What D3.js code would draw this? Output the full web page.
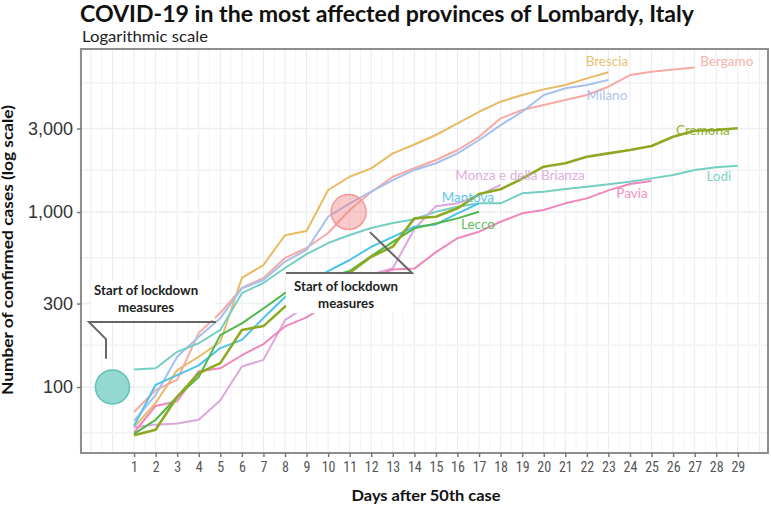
<!DOCTYPE html>
<html><head><meta charset="utf-8">
<script src="https://cdn.jsdelivr.net/npm/d3@7"></script>
<style>body{margin:0;background:#fff;} svg{display:block;}</style>
</head><body>
<svg id="chart" width="771" height="506"></svg>
<script>
// ---------- DATA (confirmed cases by day after 50th case) ----------
const days = d3.range(1, 30);
const brescia = [59, 81, 125, 149, 181, 420, 498, 737, 779, 1336, 1591, 1776, 2163, 2430, 2755, 3210, 3740, 4270, 4660, 5020, 5320, 5800, 6290];
const bergamo = [72, 96, 110, 204, 265, 368, 420, 546, 623, 759, 1027, 1301, 1591, 1780, 1982, 2262, 2690, 3428, 3830, 4090, 4370, 4660, 5200, 6060, 6340, 6530, 6700];
const milano = [64, 90, 149, 194, 247, 367, 409, 520, 607, 940, 1121, 1306, 1523, 1740, 1899, 2163, 2580, 3140, 3740, 4660, 5090, 5320, 5690];
const cremona = [53, 57, 88, 120, 137, 212, 223, 288, 330, 390, 450, 555, 634, 920, 940, 1050, 1268, 1350, 1550, 1816, 1899, 2070, 2163, 2262, 2384, 2690, 2915, 2940, 3010];
const lodi = [126, 128, 159, 178, 212, 344, 393, 479, 575, 665, 739, 810, 865, 910, 1004, 1072, 1121, 1121, 1279, 1306, 1354, 1395, 1439, 1490, 1557, 1627, 1738, 1800, 1840];
const monza = [59, 61, 62, 65, 84, 131, 143, 241, 290, 340, 390, 440, 477, 800, 1080, 1121, 1250, 1428];
const mantova = [60, 103, 117, 133, 167, 186, 248, 327, 390, 460, 532, 633, 722, 824, 850, 983, 1121];
const lecco = [54, 65, 88, 114, 198, 231, 281, 344, 385, 425, 460, 560, 676, 807, 861, 920, 1004];
const pavia = [55, 78, 83, 123, 128, 152, 176, 222, 250, 300, 360, 420, 470, 475, 590, 708, 772, 880, 983, 1027, 1121, 1197, 1330, 1445, 1503];

const seriesNames = ["Brescia", "Bergamo", "Milano", "Lodi", "Monza e della Brianza", "Pavia", "Mantova", "Lecco", "Cremona"];
const seriesValues = [brescia, bergamo, milano, lodi, monza, pavia, mantova, lecco, cremona];
const seriesColors = ["#e9ba62", "#f7aaa4", "#a6c0ee", "#74cfc2", "#dca7db", "#ef87bd", "#4cc3ea", "#4fb84a", "#8fa822"];
// label anchors [day, cases]
const labelAnchors = [[22.93, 7290], [28.49, 7290], [22.93, 4660], [28.12, 1606], [18.9, 1627], [24.09, 1284], [16.48, 1218], [16.95, 854], [27.38, 2940]];

const yTicks = [100, 300, 1000, 3000];
const xTicks = days;

// ---------- CHART ----------
const svg = d3.select("#chart");
const panel = {left: 81, top: 49, right: 768, bottom: 453};
const x = d3.scaleLinear().domain([-1.46, 30.4]).range([panel.left, panel.right]);
const y = d3.scaleLog().domain([42, 8540]).range([panel.bottom, panel.top]);

// grid
const g = svg.append("g");
const vMinor = d3.range(-1.5, 30.5, 1);
const vMajor = d3.range(-1, 31, 1);
g.selectAll("line.vmin").data(vMinor).join("line")
  .attr("x1", d => x(d)).attr("x2", d => x(d)).attr("y1", panel.top).attr("y2", panel.bottom)
  .attr("stroke", "#f3f4f7").attr("stroke-width", 1);
g.selectAll("line.vmaj").data(vMajor).join("line")
  .attr("x1", d => x(d)).attr("x2", d => x(d)).attr("y1", panel.top).attr("y2", panel.bottom)
  .attr("stroke", "#e9ebf0").attr("stroke-width", 1);
const hMajor = [30, 100, 300, 1000, 3000, 10000];
const hMinor = d3.pairs(hMajor).map(([a, b]) => Math.sqrt(a * b));
g.selectAll("line.hmin").data(hMinor.filter(v => v > 42 && v < 8540)).join("line")
  .attr("x1", panel.left).attr("x2", panel.right).attr("y1", d => y(d)).attr("y2", d => y(d))
  .attr("stroke", "#f1f2f5").attr("stroke-width", 1.5);
g.selectAll("line.hmaj").data(yTicks).join("line")
  .attr("x1", panel.left).attr("x2", panel.right).attr("y1", d => y(d)).attr("y2", d => y(d))
  .attr("stroke", "#eceef2").attr("stroke-width", 1.5);

// lines
const line = d3.line().x(d => x(d.day)).y(d => y(d.v));
seriesNames.forEach((name, i) => {
  const data = seriesValues[i].map((v, j) => ({day: days[j], v}));
  svg.append("path").datum(data)
    .attr("fill", "none")
    .attr("stroke", seriesColors[i])
    .attr("stroke-width", name === "Cremona" ? 2.6 : 2)
    .attr("stroke-linejoin", "round")
    .attr("d", line);
});

// end labels
seriesNames.forEach((name, i) => {
  svg.append("text")
    .attr("x", x(labelAnchors[i][0])).attr("y", y(labelAnchors[i][1]))
    .attr("text-anchor", "middle").attr("dominant-baseline", "central")
    .attr("font-family", "Lato, 'Open Sans', sans-serif").attr("font-size", 13.5)
    .attr("fill", seriesColors[i]).attr("opacity", 0.9)
    .text(name);
});

// annotation boxes (white backgrounds)
const ann = svg.append("g");
ann.append("rect").attr("x", x(-1.0)).attr("y", y(235) - 42).attr("width", x(4.75) - x(-1.0)).attr("height", 40).attr("fill", "#fff");
ann.append("rect").attr("x", x(8.05)).attr("y", y(448) + 1).attr("width", x(13.89) - x(8.05)).attr("height", 39).attr("fill", "#fff");

// annotation leader lines
const annLine = d3.line().x(d => x(d[0])).y(d => y(d[1]));
ann.append("path").datum([[-0.3, 145], [-0.3, 188], [-1.09, 235], [4.8, 235]])
  .attr("d", annLine).attr("fill", "none").attr("stroke", "#666").attr("stroke-width", 2);
ann.append("path").datum([[8.05, 448], [13.89, 448], [11.94, 768]])
  .attr("d", annLine).attr("fill", "none").attr("stroke", "#666").attr("stroke-width", 2);

// circles
svg.append("circle").attr("cx", x(0)).attr("cy", y(100)).attr("r", 17)
  .attr("fill", "#93d8d1").attr("stroke", "#5cc4b6").attr("stroke-width", 1.5);
svg.append("circle").attr("cx", x(10.95)).attr("cy", y(1000)).attr("r", 17.5)
  .attr("fill", "#f27b7b").attr("fill-opacity", 0.4).attr("stroke", "#f29a9a").attr("stroke-width", 1.5);

// annotation texts: [center day, line value, baseline offsets from line]
const annTexts = [[1.56, 235, -27, -10], [10.83, 448, 18, 35]];
annTexts.forEach(([d, v, o1, o2]) => {
  const cx = x(d), cy = y(v);
  svg.append("text").attr("x", cx).attr("y", cy + o1)
    .attr("text-anchor", "middle").attr("font-family", "Lato, sans-serif").attr("font-weight", "bold")
    .attr("font-size", 13).attr("textLength", 104).attr("lengthAdjust", "spacingAndGlyphs")
    .attr("fill", "#222").text("Start of lockdown");
  svg.append("text").attr("x", cx).attr("y", cy + o2)
    .attr("text-anchor", "middle").attr("font-family", "Lato, sans-serif").attr("font-weight", "bold")
    .attr("font-size", 13).attr("textLength", 56).attr("lengthAdjust", "spacingAndGlyphs")
    .attr("fill", "#222").text("measures");
});

// panel border
svg.append("rect").attr("x", panel.left).attr("y", panel.top)
  .attr("width", panel.right - panel.left).attr("height", panel.bottom - panel.top)
  .attr("fill", "none").attr("stroke", "#8e8e8e").attr("stroke-width", 2);

// axes
const xAxis = svg.append("g").attr("transform", `translate(0,${panel.bottom})`)
  .call(d3.axisBottom(x).tickValues(xTicks).tickSize(4).tickPadding(5));
xAxis.select(".domain").remove();
xAxis.selectAll(".tick line").attr("stroke", "#777").attr("stroke-width", 1.5);
xAxis.selectAll(".tick text").attr("font-family", "'Liberation Sans Narrow', 'Roboto Condensed', Roboto, sans-serif")
  .attr("font-size", 14).attr("fill", "#555");

const yAxis = svg.append("g").attr("transform", `translate(${panel.left},0)`)
  .call(d3.axisLeft(y).tickValues(yTicks).tickFormat(d3.format(",")).tickSize(4).tickPadding(4));
yAxis.select(".domain").remove();
yAxis.selectAll(".tick line").attr("stroke", "#777").attr("stroke-width", 1.5);
yAxis.selectAll(".tick text").attr("font-family", "'Liberation Sans', Arial, sans-serif")
  .attr("font-size", 18).attr("fill", "#333");

// titles
svg.append("text").attr("x", 80).attr("y", 22)
  .attr("font-family", "Lato, sans-serif").attr("font-weight", "bold").attr("font-size", 22)
  .attr("textLength", 614).attr("lengthAdjust", "spacingAndGlyphs")
  .attr("fill", "#111").text("COVID-19 in the most affected provinces of Lombardy, Italy");
svg.append("text").attr("x", 82).attr("y", 42)
  .attr("font-family", "Lato, sans-serif").attr("font-size", 15)
  .attr("textLength", 126).attr("lengthAdjust", "spacingAndGlyphs")
  .attr("fill", "#222").text("Logarithmic scale");
svg.append("text").attr("x", 426).attr("y", 501).attr("text-anchor", "middle")
  .attr("font-family", "Lato, sans-serif").attr("font-weight", "bold").attr("font-size", 16)
  .attr("textLength", 149).attr("lengthAdjust", "spacingAndGlyphs")
  .attr("fill", "#111").text("Days after 50th case");
svg.append("text").attr("transform", "translate(13,250) rotate(-90)").attr("text-anchor", "middle")
  .attr("font-family", "Lato, sans-serif").attr("font-weight", "bold").attr("font-size", 14.5)
  .attr("textLength", 290).attr("lengthAdjust", "spacingAndGlyphs")
  .attr("fill", "#111").text("Number of confirmed cases (log scale)");
</script>
</body></html>
